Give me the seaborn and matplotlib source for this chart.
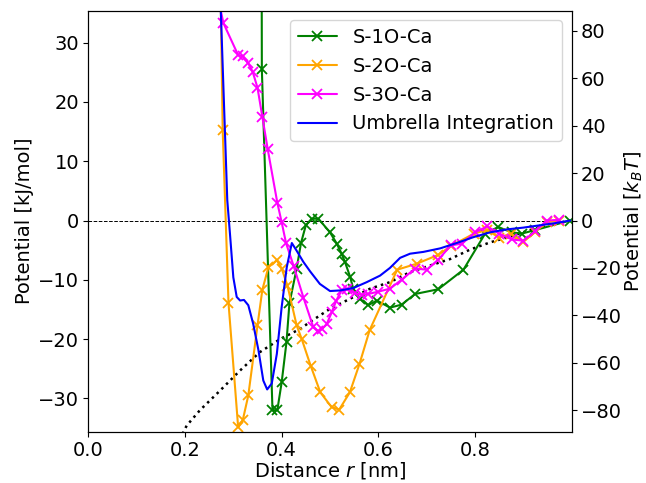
import numpy as np
import pandas as pd
import matplotlib
matplotlib.use("Agg")
import matplotlib.pyplot as plt
import seaborn as sns

# ---------------- data ----------------
r_s1 = [0.3575, 0.359, 0.381, 0.391, 0.400, 0.410, 0.416, 0.431, 0.440, 0.450,
        0.462, 0.476, 0.500, 0.514, 0.524, 0.531, 0.542, 0.548, 0.562, 0.579,
        0.597, 0.624, 0.648, 0.676, 0.724, 0.776, 0.821, 0.848, 0.876, 0.897,
        0.925, 0.997]
v_s1 = [95.0, 25.5, -32.0, -32.0, -27.3, -20.5, -14.0, -8.1, -3.8, -0.8,
        0.3, 0.3, -2.0, -3.9, -5.6, -7.0, -9.6, -11.5, -13.2, -14.3,
        -13.5, -14.7, -14.2, -12.4, -11.6, -8.3, -2.2, -1.1, -2.0, -2.2,
        -1.6, 0.0]

r_s2 = [0.266, 0.278, 0.290, 0.310, 0.3195, 0.331, 0.350, 0.360, 0.3725, 0.390,
        0.400, 0.412, 0.431, 0.4415, 0.460, 0.480, 0.5035, 0.519, 0.541, 0.561,
        0.582, 0.639, 0.679, 0.724, 0.750, 0.798, 0.825, 0.850, 0.874, 0.900,
        0.925, 0.948, 0.973]
v_s2 = [80.0, 15.2, -13.9, -34.9, -33.7, -29.5, -17.7, -11.7, -7.9, -6.7,
        -8.1, -11.0, -17.7, -20.0, -24.5, -29.0, -31.5, -31.9, -29.0, -24.2,
        -18.5, -8.3, -7.3, -5.8, -4.3, -2.2, -1.6, -2.9, -2.2, -3.6,
        -1.9, -0.3, 0.0]

r_s3 = [0.262, 0.2795, 0.310, 0.3195, 0.331, 0.340, 0.350, 0.360, 0.371, 0.391,
        0.400, 0.409, 0.4245, 0.445, 0.4655, 0.476, 0.483, 0.493, 0.5035, 0.513,
        0.524, 0.535, 0.552, 0.566, 0.579, 0.600, 0.624, 0.648, 0.676, 0.700,
        0.724, 0.750, 0.773, 0.800, 0.825, 0.850, 0.876, 0.900, 0.925, 0.948,
        0.973]
v_s3 = [40.0, 33.3, 27.9, 27.7, 26.5, 25.1, 22.4, 17.5, 12.1, 3.0,
        -0.3, -3.8, -7.6, -13.0, -18.0, -18.7, -18.3, -17.5, -15.5, -13.5,
        -11.8, -11.6, -12.3, -12.5, -12.4, -12.0, -11.5, -10.0, -8.1, -8.3,
        -6.6, -4.2, -3.9, -2.0, -1.0, -2.2, -3.2, -3.4, -1.8, 0.0,
        0.1]

r_ui = [0.265, 0.2875, 0.293, 0.300, 0.307, 0.314, 0.322, 0.331, 0.341, 0.352,
        0.362, 0.370, 0.3795, 0.390, 0.400, 0.4105, 0.421, 0.431, 0.445, 0.459,
        0.479, 0.500, 0.521, 0.548, 0.576, 0.6035, 0.624, 0.645, 0.6656, 0.693,
        0.728, 0.762, 0.797, 0.831, 0.866, 0.900, 0.935, 0.969, 0.997]
v_ui = [57.0, 3.4, -2.2, -9.6, -12.9, -13.5, -13.4, -14.3, -17.4, -21.9,
        -27.0, -28.5, -27.5, -22.5, -14.6, -7.9, -3.8, -5.1, -7.0, -8.6,
        -10.7, -11.9, -11.8, -11.4, -10.4, -9.3, -8.0, -6.3, -5.6, -5.3,
        -4.7, -3.8, -2.8, -2.0, -1.5, -1.2, -0.8, -0.4, 0.0]

r_ref = [0.195, 0.2035, 0.231, 0.2725, 0.314, 0.355, 0.397, 0.438, 0.459, 0.500,
         0.5415, 0.583, 0.624, 0.6656, 0.707, 0.7485, 0.790, 0.831, 0.873, 0.914,
         0.955, 0.997]
v_ref = [-36.0, -34.6, -32.0, -28.7, -25.3, -22.2, -20.0, -18.3, -17.1, -14.9,
         -13.2, -11.5, -10.4, -8.7, -7.6, -6.5, -4.9, -3.7, -2.7, -1.6,
         -0.7, 0.0]

labels = ["S-1O-Ca", "S-2O-Ca", "S-3O-Ca", "Umbrella Integration"]
colors = ["green", "orange", "magenta", "blue"]
kj_to_kbt = 2.5
x_ticks = [0.0, 0.2, 0.4, 0.6, 0.8]
y_ticks_left = [-30, -20, -10, 0, 10, 20, 30]
y_ticks_right = [-80, -60, -40, -20, 0, 20, 40, 60, 80]

# ---------------- plot ----------------
sns.set_style("ticks")
plt.rcParams["font.family"] = ["DejaVu Sans"]
plt.rcParams["font.size"] = 14
plt.rcParams["axes.edgecolor"] = "black"
plt.rcParams["xtick.color"] = "black"
plt.rcParams["ytick.color"] = "black"
plt.rcParams["axes.labelcolor"] = "black"
plt.rcParams["text.color"] = "black"

fig = plt.figure(figsize=(6.46, 4.83), dpi=100)
ax = fig.add_axes([0.1367, 0.1066, 0.7483, 0.8713])

ax.axhline(0, color="black", ls="--", lw=0.7, zorder=1)
sns.lineplot(x=r_ref, y=v_ref, ax=ax, color="black", linestyle=":", lw=1.8,
             sort=False, estimator=None)

series = [(r_s1, v_s1), (r_s2, v_s2), (r_s3, v_s3)]
for (rr, vv), lab, col in zip(series, labels[:3], colors[:3]):
    sns.lineplot(x=rr, y=vv, ax=ax, color=col, marker="x", markersize=7,
                 markeredgecolor=col, markeredgewidth=1.3, lw=1.5,
                 sort=False, estimator=None, label=lab)
sns.lineplot(x=r_ui, y=v_ui, ax=ax, color=colors[3], lw=1.5,
             sort=False, estimator=None, label=labels[3])

ax.set_xlim(0.0, 1.0)
ax.set_ylim(-35.6, 35.4)
ax.set_xticks(x_ticks)
ax.set_yticks(y_ticks_left)
ax.tick_params(labelsize=14, pad=3)
ax.set_xlabel("Distance $r$ [nm]", fontsize=14, labelpad=0)
ax.set_ylabel("Potential [kJ/mol]", fontsize=14, labelpad=3)
ax.legend(loc="upper right", fontsize=14)

ax2 = ax.twinx()
ax2.set_ylim(-35.6 * kj_to_kbt, 35.4 * kj_to_kbt)
ax2.set_yticks(y_ticks_right)
ax2.tick_params(labelsize=14, pad=3)
ax2.set_ylabel("Potential [$k_B T$]", fontsize=14, labelpad=1)

for a in (ax, ax2):
    for s in a.spines.values():
        s.set_visible(True)
        s.set_linewidth(0.8)
        s.set_color("black")

fig.savefig("out.png", dpi=100)
